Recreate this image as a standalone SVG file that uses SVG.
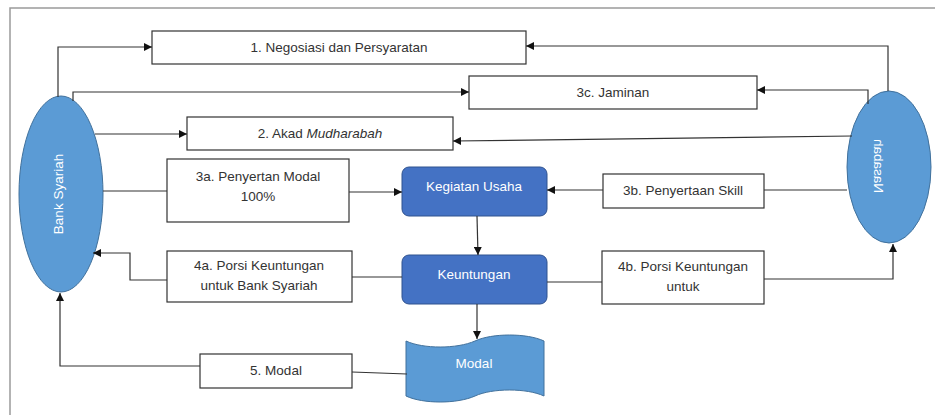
<svg xmlns="http://www.w3.org/2000/svg" width="935" height="415" viewBox="0 0 935 415">
<defs>
<marker id="arr" viewBox="0 0 10 10" refX="10" refY="5" markerWidth="8" markerHeight="8" markerUnits="userSpaceOnUse" orient="auto">
<path d="M0,0 L10,5 L0,10 z" fill="#111"/>
</marker>
<style>
.box{fill:#fff;stroke:#333;stroke-width:1.2}
.t{font-family:"Liberation Sans",Arial,sans-serif;font-size:13.5px;fill:#333;text-anchor:middle}
.w{font-family:"Liberation Sans",Arial,sans-serif;font-size:13.5px;fill:#fff;text-anchor:middle}
.dark{fill:#4472C4;stroke:#2F528F;stroke-width:1}
.light{fill:#5B9BD5;stroke:#41719C;stroke-width:1}
.c{fill:none;stroke:#333;stroke-width:1.2}
.ca{fill:none;stroke:#333;stroke-width:1.2;marker-end:url(#arr)}
</style>
</defs>
<rect width="935" height="415" fill="#fff"/>
<path d="M10,415 V8 H935" fill="none" stroke="#9a9a9a" stroke-width="1.5"/>

<g id="bank-syariah">
<ellipse class="light" cx="61" cy="194" rx="42" ry="98"/>
<text class="w" transform="translate(58,194) rotate(-90)" x="0" y="5">Bank Syariah</text>
</g>
<g id="nasabah">
<ellipse class="light" cx="889" cy="167" rx="42" ry="76"/>
<text class="w" transform="translate(879,166) rotate(-90) scale(1,-1)" x="0" y="5">Nasabah</text>
</g>
<g id="negosiasi">
<rect class="box" x="152" y="31" width="374" height="33"/>
<text class="t" x="339" y="52">1. Negosiasi dan Persyaratan</text>
</g>
<g id="jaminan">
<rect class="box" x="469" y="76" width="288" height="33"/>
<text class="t" x="613" y="97">3c. Jaminan</text>
</g>
<g id="akad">
<rect class="box" x="187" y="117" width="266" height="33"/>
<text class="t" x="320" y="138">2. Akad <tspan font-style="italic">Mudharabah</tspan></text>
</g>
<g id="penyertaan-modal">
<rect class="box" x="167" y="159" width="182" height="63"/>
<text class="t" x="258" y="181">3a. Penyertan Modal</text>
<text class="t" x="258" y="201">100%</text>
</g>
<g id="kegiatan-usaha">
<rect class="dark" x="402" y="167" width="145" height="49" rx="7"/>
<text class="w" x="474" y="191">Kegiatan Usaha</text>
</g>
<g id="penyertaan-skill">
<rect class="box" x="603" y="174" width="161" height="34"/>
<text class="t" x="683" y="195">3b. Penyertaan Skill</text>
</g>
<g id="keuntungan">
<rect class="dark" x="402" y="255" width="145" height="49" rx="7"/>
<text class="w" x="474" y="279">Keuntungan</text>
</g>
<g id="porsi-bank">
<rect class="box" x="167" y="251" width="185" height="51"/>
<text class="t" x="259" y="270">4a. Porsi Keuntungan</text>
<text class="t" x="259" y="290">untuk Bank Syariah</text>
</g>
<g id="porsi-nasabah">
<rect class="box" x="602" y="251" width="162" height="53"/>
<text class="t" x="683" y="271">4b. Porsi Keuntungan</text>
<text class="t" x="683" y="291">untuk</text>
</g>
<g id="modal-box">
<rect class="box" x="200" y="354" width="152" height="34"/>
<text class="t" x="276" y="375">5. Modal</text>
</g>
<g id="modal">
<path class="light" d="M406,341 C423,349 457,349 475,341 C492,333 527,333 544,341 L544,396 C527,388 492,388 475,396 C457,404 423,404 406,396 Z"/>
<text class="w" x="474" y="368">Modal</text>
</g>

<g id="connectors">
<path class="ca" d="M58,97 V47 H152"/>
<path class="ca" d="M73,101 V92 H469"/>
<path class="ca" d="M95,134 H187"/>
<path class="c" d="M103,191 H167"/>
<path class="ca" d="M349,192 H402"/>
<path class="ca" d="M888,91 V46 H526"/>
<path class="ca" d="M868,104 V90 H757"/>
<path class="ca" d="M852,136 L453,141"/>
<path class="c" d="M847,190 H764"/>
<path class="ca" d="M603,190 H547"/>
<path class="ca" d="M477,216 L478,255"/>
<path class="ca" d="M477,304 V339"/>
<path class="c" d="M402,277 H352"/>
<path class="ca" d="M167,280 H130 V253 H93"/>
<path class="c" d="M547,282 H602"/>
<path class="ca" d="M764,279 H893 V244"/>
<path class="c" d="M407,374 L352,372"/>
<path class="ca" d="M200,366 H60 V293"/>
</g>
</svg>
